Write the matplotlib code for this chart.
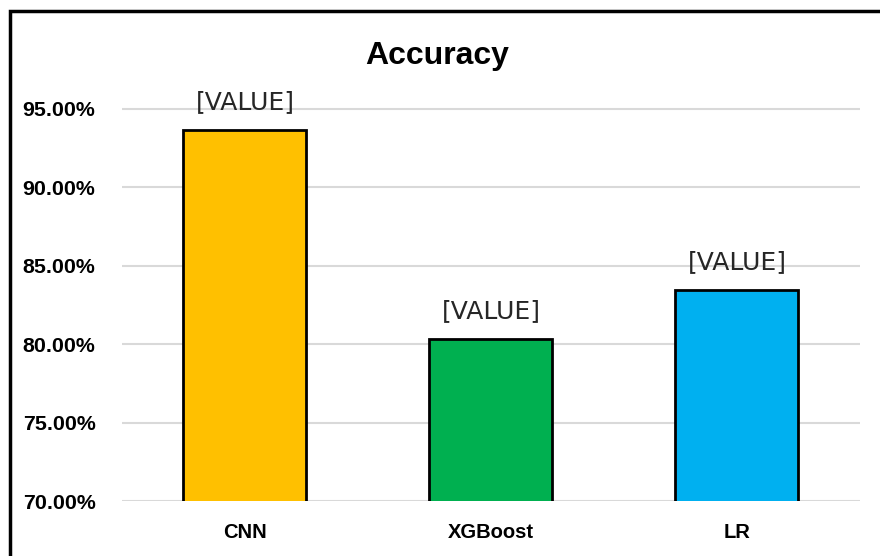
import matplotlib.pyplot as plt
from matplotlib.patches import Rectangle
from matplotlib.ticker import FuncFormatter

models = ['CNN', 'XGBoost', 'LR']
accuracy = [93.66, 80.31, 83.42]
bar_colors = ['#FFC000', '#00B050', '#00B0F0']
label_text = '[VALUE]'

bold_font = ['Liberation Sans', 'DejaVu Sans']

fig = plt.figure(figsize=(8.8, 5.56), dpi=100)
ax = fig.add_axes([0.1386, 0.0989, 0.8386, 0.748])

bars = ax.bar(range(len(models)), accuracy, width=0.5, color=bar_colors,
              edgecolor='black', linewidth=2, zorder=3)
ax.set_xlim(-0.5, 2.5)
ax.set_ylim(70, 96.5)
ax.set_yticks([70, 75, 80, 85, 90, 95])
ax.yaxis.set_major_formatter(FuncFormatter(lambda v, p: f'{v:.2f}%'))
ax.grid(axis='y', color='#D9D9D9', linewidth=1.5, zorder=0)
for s in ax.spines.values():
    s.set_visible(False)
ax.tick_params(length=0)
ax.tick_params(axis='y', pad=19)
ax.tick_params(axis='x', pad=16)
ax.set_xticks(range(len(models)))
ax.set_xticklabels(models)
for t in ax.get_yticklabels():
    t.set_fontfamily(bold_font)
    t.set_fontweight('bold')
    t.set_fontsize(15.4)
for t in ax.get_xticklabels():
    t.set_fontfamily(bold_font)
    t.set_fontweight('bold')
    t.set_fontsize(14.5)

for b in bars:
    ax.annotate(label_text, (b.get_x() + b.get_width() / 2, b.get_height()),
                xytext=(0, 11.5), textcoords='offset points', ha='center', va='bottom',
                fontsize=18, color='#262626', family='DejaVu Sans', zorder=4)

fig.text(0.497, 0.9, 'Accuracy', ha='center', va='center', fontsize=23,
         fontweight='bold', family=bold_font)

# outer frame, only left and top show in the picture
fig.patches.append(Rectangle((9.5 / 880, -0.05), 1.0, 1 - 11.5 / 556 + 0.05,
                             transform=fig.transFigure, fill=False,
                             edgecolor='black', linewidth=2.5))

fig.savefig('out.png', dpi=100)
